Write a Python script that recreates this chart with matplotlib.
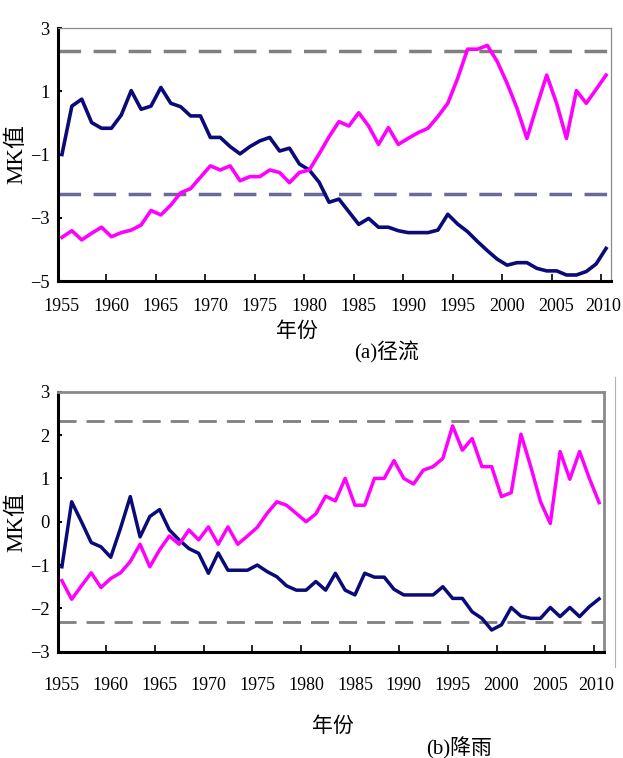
import matplotlib
matplotlib.use("Agg")
import matplotlib.pyplot as plt
import matplotlib.transforms as mtransforms
from matplotlib.lines import Line2D
import numpy as np

plt.rcParams['font.family'] = ['Liberation Serif', 'Noto Sans CJK SC']
plt.rcParams['axes.unicode_minus'] = True

years = np.arange(1955, 2011)
tick_years = list(range(1955, 2011, 5))

# (a) runoff: UF / UB statistics
runoff_uf = [-1.00, 0.53, 0.75, 0.01, -0.17, -0.17, 0.25, 1.02, 0.43, 0.53,
             1.12, 0.62, 0.51, 0.22, 0.22, -0.46, -0.46, -0.75, -0.98, -0.75,
             -0.57, -0.46, -0.89, -0.80, -1.30, -1.49, -1.88, -2.51, -2.41, -2.81,
             -3.21, -3.02, -3.30, -3.30, -3.41, -3.47, -3.47, -3.47, -3.39, -2.89,
             -3.20, -3.44, -3.75, -4.04, -4.31, -4.50, -4.42, -4.42, -4.60, -4.68,
             -4.68, -4.81, -4.81, -4.70, -4.46, -3.97]
runoff_ub = [-3.62, -3.41, -3.70, -3.49, -3.30, -3.60, -3.47, -3.39, -3.23, -2.77,
             -2.91, -2.60, -2.21, -2.08, -1.72, -1.36, -1.49, -1.36, -1.83, -1.70,
             -1.70, -1.49, -1.57, -1.89, -1.57, -1.49, -0.98, -0.44, 0.04, -0.10,
             0.32, -0.10, -0.68, -0.15, -0.68, -0.49, -0.31, -0.17, 0.20, 0.62,
             1.41, 2.33, 2.33, 2.45, 1.94, 1.25, 0.46, -0.49, 0.53, 1.51,
             0.62, -0.49, 1.02, 0.62, 1.06, 1.51]

# (b) rainfall
rain_uf = [-1.04, 0.46, 0.00, -0.48, -0.58, -0.82, -0.15, 0.58, -0.35, 0.12,
           0.28, -0.19, -0.42, -0.62, -0.73, -1.19, -0.72, -1.12, -1.12, -1.12,
           -1.00, -1.15, -1.27, -1.48, -1.58, -1.58, -1.38, -1.58, -1.19, -1.58,
           -1.69, -1.19, -1.28, -1.28, -1.56, -1.69, -1.69, -1.69, -1.69, -1.50,
           -1.77, -1.77, -2.08, -2.23, -2.50, -2.38, -1.98, -2.18, -2.23, -2.23,
           -1.98, -2.19, -1.98, -2.19, -1.96, -1.78]
rain_ub = [-1.36, -1.79, -1.48, -1.18, -1.52, -1.31, -1.18, -0.92, -0.52, -1.04,
           -0.65, -0.33, -0.52, -0.19, -0.42, -0.12, -0.52, -0.12, -0.52, -0.33,
           -0.13, 0.19, 0.46, 0.38, 0.19, 0.00, 0.18, 0.59, 0.48, 1.00,
           0.38, 0.38, 1.00, 1.00, 1.41, 1.00, 0.87, 1.19, 1.27, 1.46,
           2.21, 1.65, 1.92, 1.27, 1.27, 0.58, 0.67, 2.02, 1.27, 0.46,
           -0.04, 1.62, 0.98, 1.62, 1.00, 0.44]

crit_a = [2.27, -2.24]
crit_b = [2.32, -2.32]

W, H = 623, 758
fig = plt.figure(figsize=(W / 100, H / 100), dpi=100)


def px(x, y):
    return x / W, 1 - y / H


def style_axes(ax, ylim, yticks, label_pad, frame_lw):
    ax.set_xlim(1954.6, 2010.5)
    ax.set_ylim(*ylim)
    ax.set_yticks(yticks)
    ax.set_xticks(tick_years)
    ax.set_xticks(np.arange(1959.5, 2010, 5), minor=True)
    ax.tick_params(axis='x', which='major', length=0, pad=label_pad, labelsize=13)
    ax.tick_params(axis='x', which='minor', direction='in', length=5, width=1.2)
    ax.tick_params(axis='y', direction='in', length=3, width=1.5, pad=6, labelsize=13.3)
    ax.spines['left'].set_linewidth(2.2)
    ax.spines['bottom'].set_linewidth(2.2)
    for s in ('top', 'right'):
        ax.spines[s].set_color('#8a8a8a')
        ax.spines[s].set_linewidth(frame_lw)
    ax.set_ylabel('MK值', fontsize=16.5, labelpad=2)
    # keep the last year label inside the picture
    last = ax.get_xticklabels()[-1]
    last.set_transform(last.get_transform() +
                       mtransforms.ScaledTranslation(-3 / 100, 0, fig.dpi_scale_trans))


# ---- (a) runoff
ax1 = fig.add_axes([58 / W, 1 - 281 / H, 553 / W, 253 / H])
ax1.axhline(crit_a[0], color='#808080', lw=2.5, dashes=(6.5, 3.6))
ax1.axhline(crit_a[1], color='#6a6a9a', lw=2.5, dashes=(6.5, 3.6))
ax1.plot(years, runoff_uf, color='#0a0a78', lw=2.6)
ax1.plot(years, runoff_ub, color='#ff00ff', lw=2.6)
style_axes(ax1, (-5, 3), range(-5, 4, 2), 12, 0.9)
fig.text(*px(297, 332), '年份', ha='center', va='center', fontsize=15)
fig.text(*px(387, 352), '(a)径流', ha='center', va='center', fontsize=15)

# ---- (b) rainfall
ax2 = fig.add_axes([58 / W, 1 - 651.7 / H, 546 / W, 260 / H])
ax2.axhline(crit_b[0], color='#808080', lw=2.0, dashes=(6.5, 3.6))
ax2.axhline(crit_b[1], color='#808080', lw=2.0, dashes=(6.5, 3.6))
ax2.plot(years, rain_uf, color='#0a0a78', lw=2.5)
ax2.plot(years, rain_ub, color='#ff00ff', lw=2.5)
style_axes(ax2, (-3, 3), range(-3, 4), 18, 2.0)
fig.text(*px(333, 727), '年份', ha='center', va='center', fontsize=15)
fig.text(*px(459, 748), '(b)降雨', ha='center', va='center', fontsize=15)

# stray frame line right of panel (b)
fig.add_artist(Line2D([615 / W, 615 / W], [1 - 377 / H, 1 - 667 / H],
                      color='#b0b0b0', lw=0.8, transform=fig.transFigure))

fig.savefig('out.png', dpi=100)
